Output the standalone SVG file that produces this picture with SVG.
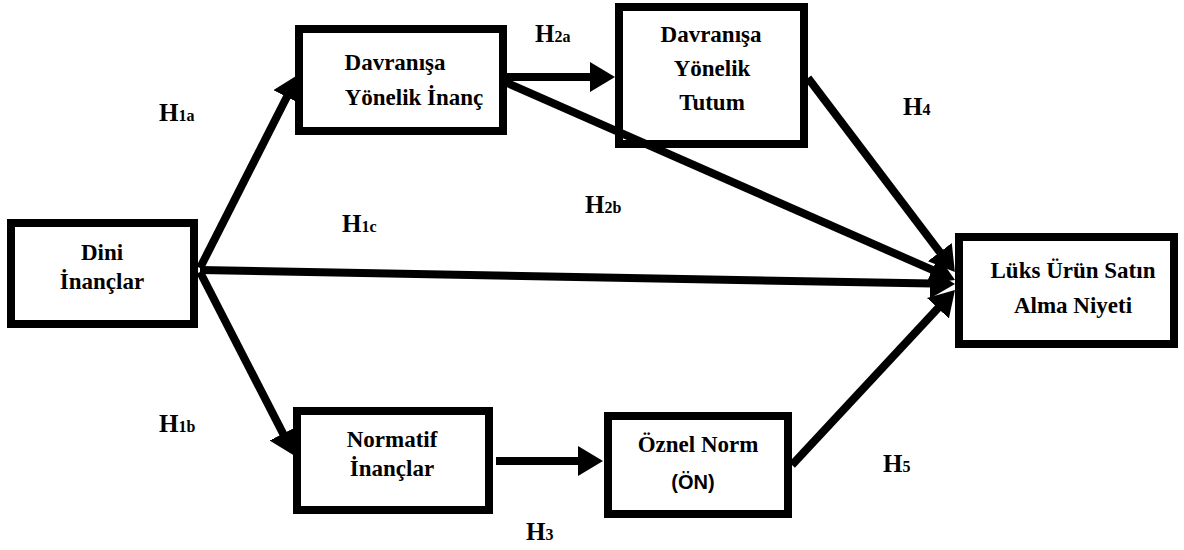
<svg xmlns="http://www.w3.org/2000/svg" width="1184" height="550" viewBox="0 0 1184 550">
<style>
.box{fill:#fff;stroke:#000;stroke-width:8}
.t{font-family:'Liberation Serif','DejaVu Serif',serif;font-weight:bold;font-size:23px;fill:#000;text-anchor:middle}
.s{font-family:'Liberation Sans','DejaVu Sans',sans-serif;font-weight:bold;font-size:20px;fill:#000;text-anchor:middle}
.h{font-family:'Liberation Serif','DejaVu Serif',serif;font-weight:bold;font-size:25px;fill:#000}
.sub{font-size:16px}
.c{stroke:#000;stroke-width:8;fill:none;marker-end:url(#ah)}
</style>
<defs>
<marker id="ah" markerUnits="userSpaceOnUse" markerWidth="26" markerHeight="30" refX="2" refY="15" orient="auto">
<path d="M0,0 L25,15 L0,30 z" fill="#000"/>
</marker>
</defs>
<g id="dini">
<rect class="box" x="11" y="223" width="183" height="101"/>
<text class="t" x="102" y="260">Dini</text>
<text class="t" x="102" y="289">İnançlar</text>
</g>
<g id="inanc">
<rect class="box" x="299" y="29" width="204" height="102"/>
<text class="t" x="395" y="70">Davranışa</text>
<text class="t" x="414" y="105">Yönelik İnanç</text>
</g>
<g id="tutum">
<rect class="box" x="619" y="7" width="185" height="137"/>
<text class="t" x="711" y="42">Davranışa</text>
<text class="t" x="712" y="76">Yönelik</text>
<text class="t" x="712" y="110">Tutum</text>
</g>
<g id="luks">
<rect class="box" x="959" y="237" width="215" height="107"/>
<text class="t" x="1073" y="278">Lüks Ürün Satın</text>
<text class="t" x="1073" y="313">Alma Niyeti</text>
</g>
<g id="normatif">
<rect class="box" x="297" y="411" width="192" height="99"/>
<text class="t" x="392" y="447">Normatif</text>
<text class="t" x="392" y="476">İnançlar</text>
</g>
<g id="oznel">
<rect class="box" x="608" y="416" width="180" height="98"/>
<text class="t" x="698" y="452">Öznel Norm</text>
<text class="s" x="693" y="489">(ÖN)</text>
</g>
<g id="connectors">
<line class="c" x1="200" y1="268" x2="287.7" y2="95.2"/>
<line class="c" x1="200" y1="272" x2="284" y2="435.4"/>
<line class="c" x1="200" y1="270" x2="932" y2="283.6"/>
<line class="c" x1="505" y1="82" x2="934" y2="270.7"/>
<line class="c" x1="808" y1="78" x2="941" y2="253.7"/>
<line class="c" x1="792" y1="465" x2="939.3" y2="306.8"/>
<line class="c" x1="507" y1="77" x2="592" y2="77"/>
<line class="c" x1="496" y1="461" x2="580" y2="461"/>
</g>
<g id="labels">
<text class="h" x="159" y="121">H<tspan class="sub">1a</tspan></text>
<text class="h" x="535" y="42">H<tspan class="sub">2a</tspan></text>
<text class="h" x="903" y="115">H<tspan class="sub">4</tspan></text>
<text class="h" x="585" y="213">H<tspan class="sub">2b</tspan></text>
<text class="h" x="342" y="232">H<tspan class="sub">1c</tspan></text>
<text class="h" x="159" y="432">H<tspan class="sub">1b</tspan></text>
<text class="h" x="883" y="472">H<tspan class="sub">5</tspan></text>
<text class="h" x="526" y="540">H<tspan class="sub">3</tspan></text>
</g>
</svg>
